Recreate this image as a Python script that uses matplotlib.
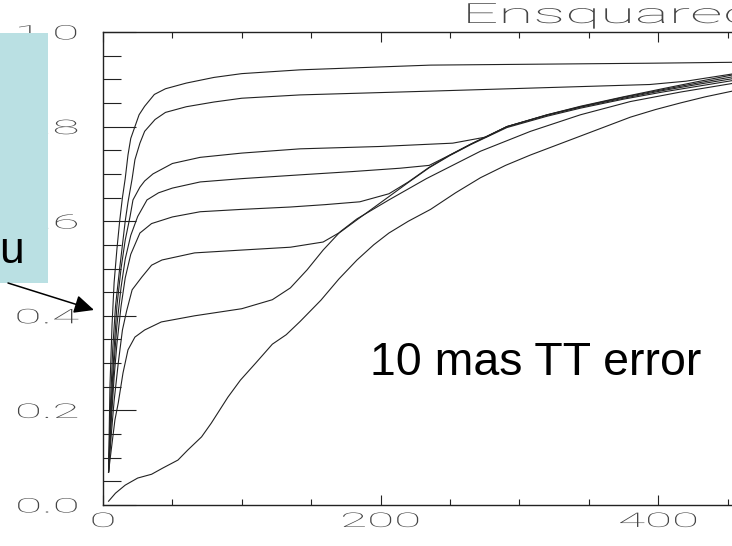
"""Ensquared energy vs box size, 10 mas TT error (cropped slide view)."""

import matplotlib

matplotlib.use("Agg")
import matplotlib.pyplot as plt
from matplotlib import patheffects
from matplotlib.patches import FancyArrowPatch, Rectangle
from matplotlib.ticker import MultipleLocator
from matplotlib.transforms import Affine2D

W, H = 732, 546

# box size (mas) / ensquared energy, top curve first
x_c1 = [4, 5, 6.5, 8, 10, 12, 14, 16, 18, 20, 23, 26, 30, 37, 45, 60, 80, 100, 142, 236, 315, 394, 455]
y_c1 = [0.07, 0.25, 0.38, 0.47, 0.54, 0.60, 0.65, 0.69, 0.74, 0.775, 0.80, 0.825, 0.843, 0.868, 0.88,
        0.892, 0.904, 0.912, 0.92, 0.93, 0.932, 0.934, 0.936]

x_c2 = [4, 5.5, 7, 9, 12, 14, 16, 18, 21, 23, 26.6, 30, 37.5, 45, 60, 80, 100, 142, 236, 315, 394, 420, 455]
y_c2 = [0.07, 0.22, 0.33, 0.42, 0.50, 0.55, 0.60, 0.64, 0.69, 0.73, 0.765, 0.79, 0.815, 0.83, 0.842,
        0.852, 0.86, 0.867, 0.875, 0.882, 0.889, 0.896, 0.912]

x_c3 = [4, 6, 8, 10, 13, 16, 19.5, 21.6, 26.6, 30, 36, 50, 70, 100, 142, 200, 252, 276, 291, 320, 344,
        375, 403, 430, 455]
y_c3 = [0.07, 0.22, 0.33, 0.42, 0.50, 0.56, 0.61, 0.645, 0.672, 0.685, 0.70, 0.722, 0.735, 0.744, 0.753,
        0.758, 0.765, 0.778, 0.80, 0.825, 0.843, 0.863, 0.880, 0.896, 0.910]

x_c4 = [4, 6, 8, 10, 13, 16, 20, 25, 31.7, 40, 50, 70, 100, 142, 180, 214, 235, 250, 265, 291, 320, 344,
        375, 403, 430, 455]
y_c4 = [0.07, 0.20, 0.30, 0.38, 0.46, 0.52, 0.57, 0.61, 0.645, 0.66, 0.67, 0.683, 0.69, 0.698, 0.705,
        0.712, 0.718, 0.74, 0.763, 0.80, 0.825, 0.842, 0.862, 0.878, 0.893, 0.906]

x_c5 = [4, 6, 8, 10, 13, 16, 20, 26.6, 35, 50, 70, 100, 135, 160, 185, 206, 220, 235, 250, 265, 291, 320,
        344, 375, 403, 430, 455]
y_c5 = [0.07, 0.18, 0.27, 0.34, 0.42, 0.48, 0.53, 0.575, 0.595, 0.609, 0.62, 0.625, 0.63, 0.635, 0.641,
        0.658, 0.683, 0.714, 0.74, 0.763, 0.80, 0.824, 0.841, 0.86, 0.876, 0.89, 0.902]

x_c6 = [4, 6, 8, 11, 14, 17, 21, 28, 35, 42.5, 66, 100, 135, 158.6, 171, 183, 206, 220, 235, 250, 265,
        291, 320, 344, 375, 403, 430, 455]
y_c6 = [0.07, 0.15, 0.22, 0.30, 0.37, 0.41, 0.455, 0.482, 0.507, 0.518, 0.533, 0.539, 0.545, 0.556, 0.577,
        0.603, 0.652, 0.682, 0.713, 0.739, 0.762, 0.798, 0.822, 0.839, 0.858, 0.873, 0.886, 0.898]

x_c7 = [4, 6.5, 8.6, 11, 14.4, 18, 23, 30, 42, 66, 100, 122, 135, 147, 158.6, 171, 183, 206, 233, 272,
        308, 344, 380, 416, 455]
y_c7 = [0.07, 0.13, 0.18, 0.216, 0.279, 0.328, 0.355, 0.37, 0.387, 0.40, 0.415, 0.434, 0.459, 0.497,
        0.539, 0.578, 0.605, 0.645, 0.69, 0.748, 0.79, 0.825, 0.853, 0.873, 0.892]

x_c8 = [4, 9, 16, 25, 35, 43, 54, 61, 71, 78, 90, 99, 110, 122, 132, 142, 157, 170, 183, 195, 206, 220,
        236, 254, 272, 290, 308, 326, 344, 362, 380, 398, 416, 434, 455]
y_c8 = [0.008, 0.025, 0.042, 0.057, 0.065, 0.078, 0.095, 0.116, 0.144, 0.173, 0.228, 0.264, 0.30, 0.34,
        0.36, 0.388, 0.433, 0.478, 0.518, 0.55, 0.575, 0.60, 0.625, 0.66, 0.692, 0.718, 0.74, 0.76, 0.78,
        0.80, 0.82, 0.836, 0.85, 0.863, 0.876]

CURVES = [(x_c1, y_c1), (x_c2, y_c2), (x_c3, y_c3), (x_c4, y_c4),
          (x_c5, y_c5), (x_c6, y_c6), (x_c7, y_c7), (x_c8, y_c8)]

X_MAJOR = 200
X_MINOR = 50
Y_MAJOR = 0.2
Y_MINOR = 0.05

TITLE = "Ensquared"
NOTE = "10 mas TT error"
BOX_TEXT = "u"
BOX_COLOR = "#bae0e3"
INK = "#222222"
TICK_INK = "#444444"


class Stretch(patheffects.AbstractPathEffect):
    """Widen text horizontally, the way the old vector font looked."""

    def __init__(self, sx, about="center"):
        super().__init__()
        self.sx = sx
        self.about = about

    def draw_path(self, renderer, gc, tpath, affine, rgbFace=None):
        ext = tpath.get_extents()
        cx = 0.0 if self.about == "left" else 0.5 * (ext.x0 + ext.x1)
        stretch = Affine2D().translate(-cx, 0).scale(self.sx, 1.0).translate(cx, 0)
        renderer.draw_path(gc, tpath, stretch + affine, rgbFace)


def px(x, y):
    return x / W, 1 - y / H


fig = plt.figure(figsize=(W / 100, H / 100), dpi=100)
ax = fig.add_axes([103 / W, 41 / H, 694 / W, 473 / H])

for xs, ys in CURVES:
    ax.plot(xs, ys, color=INK, lw=0.8, solid_joinstyle="round")

ax.set_xlim(0, 500)
ax.set_ylim(0, 1)
ax.xaxis.set_major_locator(MultipleLocator(X_MAJOR))
ax.xaxis.set_minor_locator(MultipleLocator(X_MINOR))
ax.yaxis.set_major_locator(MultipleLocator(Y_MAJOR))
ax.yaxis.set_minor_locator(MultipleLocator(Y_MINOR))
ax.xaxis.set_major_formatter(lambda v, pos: f"{v:.0f}")
ax.yaxis.set_major_formatter(lambda v, pos: f"{v:.1f}")

ax.tick_params(axis="x", which="both", direction="in", top=True, color=INK, width=0.8)
ax.tick_params(axis="x", which="major", length=7.5, pad=5)
ax.tick_params(axis="x", which="minor", length=4.3)
ax.tick_params(axis="y", which="both", direction="in", right=True, color=INK, width=0.8)
ax.tick_params(axis="y", which="major", length=23.5, pad=40)
ax.tick_params(axis="y", which="minor", length=13)
for spine in ax.spines.values():
    spine.set_color(INK)
    spine.set_linewidth(1.0)

for lbl in ax.get_xticklabels() + ax.get_yticklabels():
    lbl.set_fontfamily("Roboto")
    lbl.set_fontweight(100)
    lbl.set_fontsize(14.5)
    lbl.set_color(TICK_INK)
    lbl.set_path_effects([Stretch(2.45)])
for lbl in ax.get_yticklabels():
    lbl.set_ha("center")

fig.text(*px(462, 23), TITLE, fontfamily="Roboto", fontweight=100, fontsize=20,
         color=TICK_INK, ha="left", va="baseline", path_effects=[Stretch(2.3, about="left")])

fig.text(*px(370, 375), NOTE, fontfamily="Liberation Sans", fontsize=33.5,
         color="black", ha="left", va="baseline")

# light blue text box from the slide, mostly cut off at the left edge
box_x0, box_y0 = px(0, 283)
box_x1, box_y1 = px(48, 33)
fig.add_artist(Rectangle((box_x0, box_y0), box_x1 - box_x0, box_y1 - box_y0,
                         transform=fig.transFigure, facecolor=BOX_COLOR, edgecolor="none", zorder=2))
fig.text(*px(24, 263), BOX_TEXT, fontfamily="Liberation Sans", fontsize=32,
         color="black", ha="right", va="baseline", zorder=3)

fig.add_artist(FancyArrowPatch(px(8, 283), px(94, 310), transform=fig.transFigure,
                               arrowstyle="-|>,head_length=0.6,head_width=0.28",
                               mutation_scale=20, color="black", lw=1.1,
                               shrinkA=0, shrinkB=0, zorder=3))

fig.savefig("out.png", dpi=100)
